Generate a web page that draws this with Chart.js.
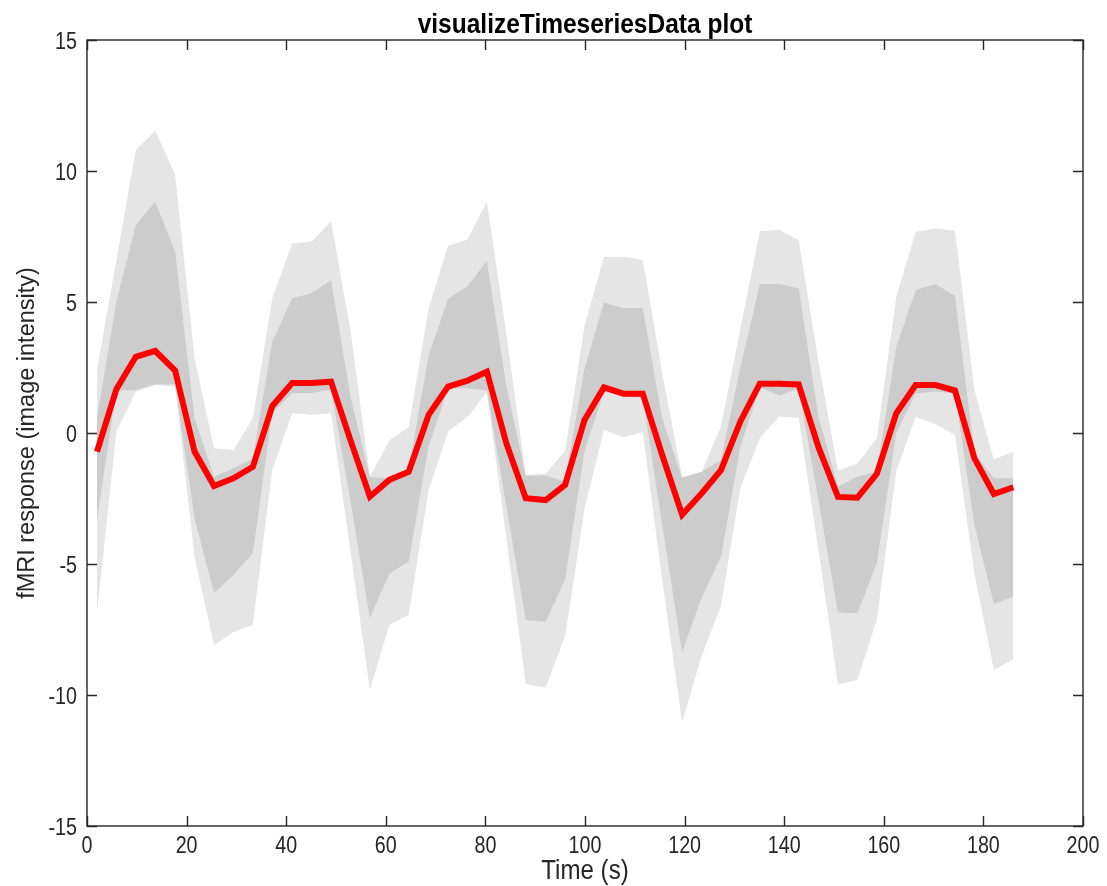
<!DOCTYPE html>
<html>
<head>
<meta charset="utf-8">
<script src="https://cdn.jsdelivr.net/npm/chart.js@4.4.0/dist/chart.umd.min.js"></script>
<style>
  html, body { margin: 0; padding: 0; background: #fff; }
  #plot { display: block; }
</style>
</head>
<body>
<canvas id="plot" width="1107" height="886"></canvas>
<script>
// time points (s) and response values
const timeSec = [2.0, 5.9, 9.8, 13.7, 17.7, 21.6, 25.5, 29.4, 33.3, 37.2, 41.2, 45.1,
  49.0, 52.9, 56.8, 60.7, 64.6, 68.6, 72.5, 76.4, 80.3, 84.2, 88.1, 92.1,
  96.0, 99.9, 103.8, 107.7, 111.6, 115.5, 119.5, 123.4, 127.3, 131.2, 135.1, 139.0,
  142.9, 146.9, 150.8, 154.7, 158.6, 162.5, 166.4, 170.4, 174.3, 178.2, 182.1, 186.0];

const meanResp = [-0.71, 1.67, 2.91, 3.13, 2.38, -0.71, -2.02, -1.73, -1.29, 1.03, 1.91, 1.91,
  1.96, -0.27, -2.43, -1.79, -1.48, 0.69, 1.77, 2.00, 2.34, -0.39, -2.49, -2.56,
  -1.98, 0.50, 1.74, 1.50, 1.50, -0.84, -3.12, -2.31, -1.42, 0.44, 1.88, 1.88,
  1.85, -0.55, -2.44, -2.47, -1.56, 0.75, 1.83, 1.83, 1.62, -0.97, -2.33, -2.07];

// inner (dark) band
const darkUpper = [0.60, 5.01, 7.94, 8.83, 6.92, 0.56, -1.67, -1.35, -0.97, 3.49, 5.14, 5.33,
  5.84, 1.39, -1.69, -1.72, -1.40, 2.98, 5.11, 5.61, 6.56, 1.8, -1.64, -1.62,
  -1.85, 2.45, 4.98, 4.76, 4.77, 0.55, -1.72, -1.48, -1.03, 2.5, 5.69, 5.69,
  5.52, 0.6, -2.04, -1.67, -1.48, 3.29, 5.46, 5.69, 5.23, -0.78, -1.73, -1.73];
const darkLower = [-3.32, 1.62, 1.64, 1.86, 1.86, -3.26, -6.12, -5.42, -4.59, 0.75, 1.53, 1.53,
  1.65, -2.6, -7.07, -5.36, -4.91, -0.5, 1.71, 1.71, 1.62, -2.8, -7.14, -7.20,
  -5.6, -0.7, 1.58, 1.39, 1.35, -3.5, -8.37, -6.3, -4.72, -0.52, 1.75, 1.43,
  1.70, -2.6, -6.85, -6.88, -4.97, -0.01, 1.51, 1.58, 1.50, -3.51, -6.53, -6.25];

// outer (light) band
const lightUpper = [2.40, 6.60, 10.80, 11.54, 9.85, 2.85, -0.58, -0.65, 0.56, 5.14, 7.23, 7.31,
  8.07, 3.93, -1.67, -0.29, 0.24, 4.76, 7.15, 7.39, 8.83, 3.8, -1.60, -1.56,
  -0.68, 4.08, 6.73, 6.73, 6.60, 2.3, -1.68, -1.49, 0.25, 4.0, 7.70, 7.76,
  7.37, 2.7, -1.44, -1.16, -0.20, 5.20, 7.68, 7.81, 7.72, 1.64, -1.01, -0.71];
const lightLower = [-6.88, 0.05, 1.58, 1.83, 1.77, -4.72, -8.1, -7.6, -7.33, -1.41, 0.76, 0.70,
  0.75, -4.5, -9.81, -7.33, -6.95, -2.18, 0.05, 0.62, 1.55, -4.0, -9.58, -9.71,
  -7.77, -2.9, 0.11, -0.16, 0.03, -5.6, -11.05, -8.52, -6.6, -2.1, -0.2, 0.63,
  0.57, -4.5, -9.6, -9.43, -7.14, -1.48, 0.62, 0.34, -0.08, -5.36, -9.05, -8.64];

const xTicksRange = [0, 200, 20];
const yTicksRange = [-15, 15, 5];

const chartTitle = 'visualizeTimeseriesData plot';
const xLabel = 'Time (s)';
const yLabel = 'fMRI response (image intensity)';

const FONT = "'Liberation Sans', Arial, sans-serif";
const INK = '#262626';
const TICK_LEN = 10;

const pts = ys => ys.map((v, i) => ({ x: timeSec[i], y: v }));

function band(data, color, target) {
  return {
    data: pts(data),
    borderColor: 'rgba(0,0,0,0)',
    borderWidth: 0,
    backgroundColor: color,
    pointRadius: 0,
    fill: target === undefined ? false : target,
    tension: 0
  };
}

// the original text is a bit condensed, so squeeze it horizontally
function squeezed(ctx, text, x, y, font, align, sx) {
  ctx.save();
  ctx.translate(x, y);
  ctx.scale(sx, 1);
  ctx.font = font;
  ctx.textAlign = align;
  ctx.textBaseline = 'alphabetic';
  ctx.fillText(text, 0, 0);
  ctx.restore();
}

// MATLAB style box: frame, inward ticks on all sides, labels and bold title
const boxPlugin = {
  id: 'matlabBox',
  afterDatasetsDraw(chart) {
    const { ctx, chartArea: a, scales: { x, y } } = chart;
    ctx.save();
    ctx.strokeStyle = INK;
    ctx.lineWidth = 1.4;
    ctx.strokeRect(a.left, a.top, a.right - a.left, a.bottom - a.top);
    ctx.beginPath();
    x.ticks.forEach(t => {
      const px = Math.round(x.getPixelForValue(t.value)) + 0.5;
      ctx.moveTo(px, a.bottom); ctx.lineTo(px, a.bottom - TICK_LEN);
      ctx.moveTo(px, a.top); ctx.lineTo(px, a.top + TICK_LEN);
    });
    y.ticks.forEach(t => {
      const py = Math.round(y.getPixelForValue(t.value)) + 0.5;
      ctx.moveTo(a.left, py); ctx.lineTo(a.left + TICK_LEN, py);
      ctx.moveTo(a.right, py); ctx.lineTo(a.right - TICK_LEN, py);
    });
    ctx.stroke();

    ctx.fillStyle = INK;
    const tickFont = '24px ' + FONT;
    x.ticks.forEach(t => {
      squeezed(ctx, String(t.value), x.getPixelForValue(t.value), 853, tickFont, 'center', 0.82);
    });
    y.ticks.forEach(t => {
      squeezed(ctx, String(t.value), 77, y.getPixelForValue(t.value) + 8.5, tickFont, 'right', 0.82);
    });
    squeezed(ctx, xLabel, (a.left + a.right) / 2, 879, '28px ' + FONT, 'center', 0.86);

    ctx.fillStyle = '#000';
    squeezed(ctx, chartTitle, (a.left + a.right) / 2, 33, 'bold 28.5px ' + FONT, 'center', 0.86);
    ctx.restore();
  }
};

new Chart(document.getElementById('plot'), {
  type: 'line',
  data: {
    datasets: [
      {
        data: pts(meanResp),
        borderColor: '#ff0000',
        borderWidth: 6,
        borderJoinStyle: 'miter',
        pointRadius: 0,
        fill: false,
        tension: 0
      },
      band(darkUpper, '#cccccc', 2),
      band(darkLower, '#cccccc'),
      band(lightUpper, '#e5e5e5', 4),
      band(lightLower, '#e5e5e5')
    ]
  },
  options: {
    responsive: false,
    animation: false,
    layout: { padding: { left: 0, right: 24, top: 40, bottom: 0 } },
    plugins: {
      legend: { display: false },
      tooltip: { enabled: false },
      filler: { propagate: false }
    },
    scales: {
      x: {
        type: 'linear',
        min: xTicksRange[0],
        max: xTicksRange[1],
        ticks: { stepSize: xTicksRange[2], autoSkip: false, display: false },
        grid: { display: false, drawTicks: false },
        border: { display: false },
        afterFit(s) { s.height = 60; s.paddingLeft = 0; s.paddingRight = 0; }
      },
      y: {
        min: yTicksRange[0],
        max: yTicksRange[1],
        ticks: { stepSize: yTicksRange[2], display: false },
        grid: { display: false, drawTicks: false },
        border: { display: false },
        title: {
          display: true,
          text: yLabel,
          color: INK,
          font: { family: FONT, size: 23.5 },
          padding: { top: 13, bottom: 0 }
        },
        afterFit(s) { s.width = 87; s.paddingTop = 0; s.paddingBottom = 0; }
      }
    }
  },
  plugins: [boxPlugin]
});
</script>
</body>
</html>
